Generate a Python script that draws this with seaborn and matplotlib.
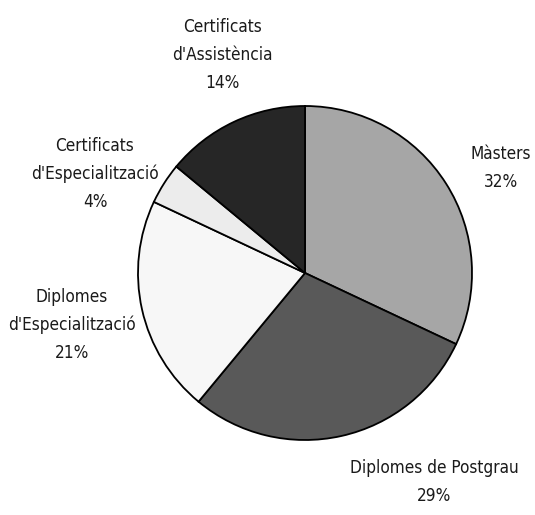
#pie chart of postgraduate programme types
import numpy as np
import matplotlib
matplotlib.use('Agg')
import matplotlib.pyplot as plt
import seaborn as sns

categories = ['Màsters', 'Diplomes de Postgrau', "Diplomes\nd'Especialització",
              "Certificats\nd'Especialització", "Certificats\nd'Assistència"]
shares = [32, 29, 21, 4, 14]
colors = ['#a6a6a6', '#595959', '#f7f7f7', '#ececec', '#262626']

# label centres in pixels of the reference (x, y from top)
label_px = [(501, 168), (434, 482), (72, 325), (95, 174), (222, 55)]

sns.set_style('white')
plt.rcParams['font.family'] = ['DejaVu Sans']

W, H = 535, 515
cx, cy, r = 305, 273, 167
fig = plt.figure(figsize=(W / 100, H / 100), dpi=100)
ax = fig.add_axes([(cx - r) / W, (H - cy - r) / H, 2 * r / W, 2 * r / H])

ax.pie(shares, colors=colors, startangle=90, counterclock=False, radius=1,
       wedgeprops={'edgecolor': 'black', 'linewidth': 1.3})

for cat, val, (px, py) in zip(categories, shares, label_px):
    ax.text((px - cx) / r, (cy - py) / r, f'{cat}\n{val}%', ha='center', va='center',
            fontsize=12.3, fontstretch='condensed', linespacing=1.7, color='#1a1a1a')

ax.set_xlim(-1, 1)
ax.set_ylim(-1, 1)
ax.set_aspect('equal')
ax.axis('off')
fig.savefig('out.png', dpi=100)
